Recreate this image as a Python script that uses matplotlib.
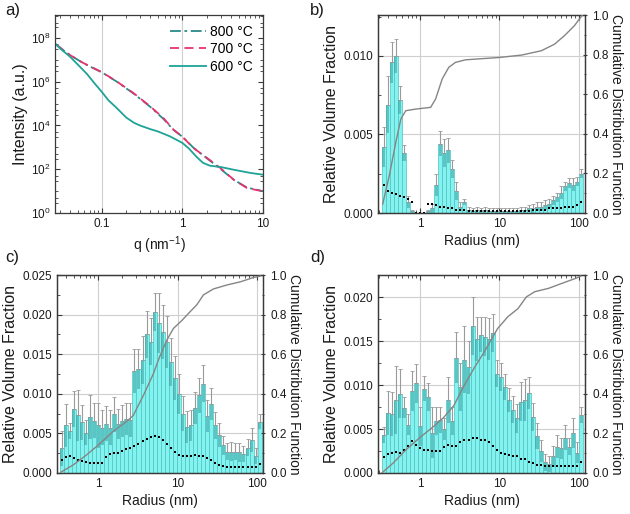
import numpy as np
import matplotlib
matplotlib.use("Agg")
import matplotlib.pyplot as plt
from matplotlib.ticker import FixedLocator, NullFormatter, MultipleLocator, FormatStrFormatter, LogLocator, LogFormatterSciNotation

plt.rcParams['font.family'] = ['Liberation Sans', 'DejaVu Sans']
plt.rcParams['mathtext.fontset'] = 'custom'
plt.rcParams['mathtext.rm'] = 'Liberation Sans'
plt.rcParams['mathtext.it'] = 'Liberation Sans:italic'

# ---- panel a: scattering curves ----
q_800 = [0.0269, 0.0359, 0.058, 0.1, 0.151, 0.244, 0.395, 0.579, 0.772, 1.0, 1.37, 2.01, 2.95, 4.34, 6.35, 10.0]
I_800 = [10**7.70, 10**7.33, 10**6.85, 10**6.42, 10**6.01, 10**5.47, 10**4.86, 10**4.30, 10**3.80, 10**3.48, 10**2.98, 10**2.50, 10**2.02, 10**1.52, 10**1.16, 10**1.00]
q_700 = [0.0269, 0.0359, 0.058, 0.1, 0.151, 0.244, 0.395, 0.579, 0.772, 1.0, 1.37, 2.01, 2.95, 4.34, 6.35, 10.0]
I_700 = [10**7.70, 10**7.32, 10**6.86, 10**6.43, 10**6.02, 10**5.49, 10**4.88, 10**4.34, 10**3.81, 10**3.48, 10**2.97, 10**2.52, 10**2.06, 10**1.52, 10**1.14, 10**0.99]
q_600 = [0.0269, 0.03, 0.04, 0.05, 0.065, 0.08, 0.1, 0.12, 0.15, 0.2, 0.25, 0.3, 0.4, 0.5, 0.7, 1.0,
         1.2, 1.5, 1.8, 2.2, 3.0, 4.3, 7.0, 10.0]
I_600 = [10**7.70, 10**7.52, 10**7.14, 10**6.78, 10**6.35, 10**5.94, 10**5.52, 10**5.15, 10**4.82, 10**4.36,
         10**4.12, 10**3.99, 10**3.83, 10**3.72, 10**3.50, 10**3.20,
         10**2.95, 10**2.56, 10**2.29, 10**2.16, 10**2.10, 10**1.98, 10**1.83, 10**1.75]

# ---- size distributions: 50 log-spaced radius bins ----
bin_edges = np.geomspace(0.33, 114.4, 51)

b_vals = [0.0042, 0.0069, 0.0096, 0.0100, 0.0072, 0.0038, 0.0007, 0.0001, 0.0, 0.0,
          0.0, 0.0001, 0.0003, 0.0018, 0.0044, 0.0038, 0.0040, 0.0028, 0.0014, 0.0004,
          0.0007, 0.0002, 0.0001, 0.0002, 0.0001, 0.0002, 0.0001, 0.0001, 0.0001, 0.0001,
          0.0001, 0.0001, 0.0001, 0.0001, 0.0002, 0.0002, 0.0003, 0.0003, 0.0004, 0.0004,
          0.0005, 0.0006, 0.0008, 0.0010, 0.0013, 0.0017, 0.0019, 0.0018, 0.0020, 0.0025]
b_err = [0.0013, 0.0018, 0.0013, 0.0011, 0.0009, 0.0005, 0.0004, 0.0001, 0.0, 0.0,
         0.0, 0.0001, 0.0003, 0.0007, 0.0008, 0.0009, 0.0008, 0.0006, 0.0006, 0.0003,
         0.0002, 0.0002, 0.0002, 0.0002, 0.0002, 0.0002, 0.0002, 0.0002, 0.0002, 0.0002,
         0.0002, 0.0002, 0.0002, 0.0002, 0.0002, 0.0002, 0.0002, 0.0003, 0.0003, 0.0003,
         0.0003, 0.0003, 0.0003, 0.0003, 0.0004, 0.0003, 0.0003, 0.0004, 0.0003, 0.0003]
b_dots = [0.0018, 0.0014, 0.0013, 0.0012, 0.0011, 0.0010, 0.0009, 0.0007, 0.0, 0.0,
          0.0, 0.0006, 0.0006, 0.0005, 0.0004, 0.0004, 0.0003, 0.0003, 0.0002, 0.0002,
          0.0002, 0.0001, 0.0001, 0.0001, 0.0001, 0.0001, 0.0001, 0.0001, 0.0001, 0.0001,
          0.0001, 0.0001, 0.0001, 0.0001, 0.0001, 0.0001, 0.00015, 0.0002, 0.0002, 0.0002,
          0.0002, 0.0003, 0.0003, 0.0003, 0.0003, 0.0004, 0.0004, 0.0004, 0.0005, 0.0007]
b_cdf_r = [0.338, 0.41, 0.496, 0.573, 0.66, 0.88, 1.36, 1.57, 1.9, 2.3, 2.79, 3.72, 10, 19, 33.8, 49.5, 66, 88, 111]
b_cdf = [0.045, 0.19, 0.36, 0.475, 0.517, 0.525, 0.534, 0.576, 0.677, 0.736, 0.761, 0.774, 0.786, 0.798, 0.82, 0.853, 0.896, 0.946, 1.0]

c_vals = [0.0031, 0.0060, 0.0053, 0.0081, 0.0073, 0.0064, 0.0051, 0.0071, 0.0066, 0.0060,
          0.0057, 0.0062, 0.0057, 0.0074, 0.0062, 0.0066, 0.0068, 0.0067, 0.0129, 0.0131,
          0.0143, 0.0175, 0.0166, 0.0203, 0.0190, 0.0178, 0.0165, 0.0140, 0.0120, 0.0100,
          0.0075, 0.0058, 0.0060, 0.0082, 0.0098, 0.0113, 0.0072, 0.0087, 0.0060, 0.0048,
          0.0035, 0.0027, 0.0027, 0.0027, 0.0026, 0.0024, 0.0032, 0.0042, 0.0021, 0.0065]
c_err = [0.0022, 0.0027, 0.0010, 0.0023, 0.0032, 0.0022, 0.0016, 0.0028, 0.0022, 0.0028,
         0.0022, 0.0022, 0.0022, 0.0022, 0.0019, 0.0020, 0.0020, 0.0021, 0.0028, 0.0025,
         0.0030, 0.0030, 0.0030, 0.0024, 0.0038, 0.0034, 0.0033, 0.0030, 0.0028, 0.0025,
         0.0022, 0.0020, 0.0020, 0.0020, 0.0022, 0.0023, 0.0020, 0.0020, 0.0017, 0.0015,
         0.0012, 0.0011, 0.0012, 0.0011, 0.0012, 0.0010, 0.0011, 0.0015, 0.0010, 0.0009]
c_dots = [0.0016, 0.0020, 0.0021, 0.0019, 0.0017, 0.0015, 0.0014, 0.0013, 0.0013, 0.0012,
          0.0013, 0.0020, 0.0024, 0.0025, 0.0025, 0.0028, 0.0030, 0.0032, 0.0034, 0.0036,
          0.0040, 0.0043, 0.0045, 0.0047, 0.0046, 0.0042, 0.0037, 0.0031, 0.0027, 0.0023,
          0.0022, 0.0022, 0.0022, 0.0023, 0.0022, 0.0021, 0.0019, 0.0016, 0.0012, 0.0010,
          0.0009, 0.0008, 0.0008, 0.0008, 0.0008, 0.0008, 0.0008, 0.0008, 0.0008, 0.0011]
c_cdf_r = [0.338, 0.484, 0.71, 1.0, 1.55, 2.28, 2.77, 3.7, 4.95, 6.0, 7.3, 8.87, 11.3, 14.4, 17.5, 21.2, 28.3, 41.8, 61.7, 90.6, 110]
c_cdf = [0.003, 0.04, 0.09, 0.14, 0.21, 0.26, 0.29, 0.39, 0.50, 0.59, 0.67, 0.73, 0.77, 0.815, 0.85, 0.90, 0.93, 0.95, 0.966, 0.988, 0.995]

d_vals = [0.0043, 0.0068, 0.0067, 0.0083, 0.0090, 0.0074, 0.0055, 0.0093, 0.0102, 0.0053,
          0.0096, 0.0086, 0.0046, 0.0059, 0.0060, 0.0050, 0.0083, 0.0059, 0.0131, 0.0098,
          0.0129, 0.0120, 0.0167, 0.0152, 0.0157, 0.0155, 0.0152, 0.0159, 0.0113, 0.0109,
          0.0098, 0.0083, 0.0072, 0.0062, 0.0081, 0.0083, 0.0091, 0.0064, 0.0042, 0.0025,
          0.0012, 0.0010, 0.0019, 0.0030, 0.0028, 0.0040, 0.0030, 0.0045, 0.0023, 0.0066]
d_err = [0.0009, 0.0025, 0.0025, 0.0039, 0.0028, 0.0012, 0.0012, 0.0023, 0.0022, 0.0022,
         0.0014, 0.0016, 0.0029, 0.0016, 0.0015, 0.0012, 0.0026, 0.0016, 0.0029, 0.0027,
         0.0038, 0.0030, 0.0033, 0.0025, 0.0020, 0.0022, 0.0024, 0.0022, 0.0015, 0.0016,
         0.0015, 0.0014, 0.0015, 0.0017, 0.0022, 0.0024, 0.0018, 0.0016, 0.0015, 0.0012,
         0.0010, 0.0009, 0.0012, 0.0013, 0.0012, 0.0014, 0.0010, 0.0017, 0.0012, 0.0009]
d_dots = [0.0018, 0.0022, 0.0023, 0.0024, 0.0023, 0.0026, 0.0031, 0.0036, 0.0032, 0.0028,
          0.0026, 0.0026, 0.0025, 0.0025, 0.0025, 0.0030, 0.0032, 0.0031, 0.0031, 0.0035,
          0.0037, 0.0038, 0.0040, 0.0040, 0.0038, 0.0038, 0.0035, 0.0031, 0.0026, 0.0023,
          0.0022, 0.0020, 0.0019, 0.0019, 0.0016, 0.0016, 0.0013, 0.0011, 0.0009, 0.0009,
          0.0008, 0.0008, 0.0008, 0.0008, 0.0008, 0.0008, 0.0008, 0.0008, 0.0008, 0.0012]
d_cdf_r = [0.33, 0.457, 0.676, 1.0, 1.48, 1.98, 2.66, 3.57, 4.8, 6.4, 7.8, 9.5, 12.8, 17.1, 21.9, 27.9, 41.6, 61.2, 90.8, 106]
d_cdf = [0.0, 0.05, 0.12, 0.18, 0.235, 0.28, 0.34, 0.44, 0.53, 0.61, 0.67, 0.73, 0.79, 0.83, 0.89, 0.916, 0.933, 0.958, 0.983, 0.995]

TXT = '#1a1a1a'
SPINE = '#3a3a3a'
GRID = '#cfcfcf'
TICK_FS = 8.5
XLAB_FS = 10
YLAB_FS = 11.5

fig = plt.figure(figsize=(6.3, 5.14), dpi=100)


def style_axis(ax):
    for s in ax.spines.values():
        s.set_color(SPINE)
        s.set_linewidth(0.9)
    ax.tick_params(which='both', direction='in', colors=SPINE, labelcolor=TXT, labelsize=TICK_FS)
    ax.tick_params(which='major', length=3.5)
    ax.tick_params(which='minor', length=2)


# ---- panel a ----
ax = fig.add_axes([0.0873, 0.5856, 0.330, 0.385])
ax.plot(q_800, I_800, color='#2b8a8a', lw=1.3, ls=(0, (6, 2, 1.5, 2)), label='800 °C')
ax.plot(q_700, I_700, color='#e6336e', lw=1.3, ls=(0, (5, 3)), label='700 °C')
ax.plot(q_600, I_600, color='#1da397', lw=1.3, label='600 °C')
ax.set_xscale('log')
ax.set_yscale('log')
ax.set_xlim(0.026, 10)
ax.set_ylim(1, 1.1e9)
ax.xaxis.set_major_locator(FixedLocator([0.1, 1, 10]))
ax.set_xticklabels(['0.1', '1', '10'])
ax.xaxis.set_minor_locator(LogLocator(base=10, subs=np.arange(2, 10)))
ax.xaxis.set_minor_formatter(NullFormatter())
ax.yaxis.set_major_locator(FixedLocator([1, 1e2, 1e4, 1e6, 1e8]))
ax.yaxis.set_major_formatter(LogFormatterSciNotation())
ax.yaxis.set_minor_locator(FixedLocator([1e1, 1e3, 1e5, 1e7, 1e9] + [m * 10**e for e in range(0, 9) for m in (3, 5)]))
ax.yaxis.set_minor_formatter(NullFormatter())
ax.grid(True, axis='x', which='major', color=GRID, lw=0.8)
ax.set_axisbelow(True)
style_axis(ax)
ax.tick_params(which='both', top=True, right=True)
ax.set_xlabel('q (nm$^{-1}$)', fontsize=XLAB_FS, color=TXT, labelpad=3)
ax.set_ylabel('Intensity (a.u.)', fontsize=YLAB_FS, color=TXT, labelpad=2)
ax.legend(loc='upper right', frameon=False, fontsize=10, handlelength=2.6,
          handletextpad=0.3, borderaxespad=0.3, labelspacing=0.25)


# ---- panels b-d ----
def dist_panel(rect, vals, err, dots, cdf_r, cdf, xlim, ylim):
    vals = np.array(vals)
    err = np.array(err)
    left = bin_edges[:-1]
    widths = np.diff(bin_edges)
    centers = np.sqrt(bin_edges[:-1] * bin_edges[1:])
    ax = fig.add_axes(rect)
    ax.bar(left, vals, width=widths, align='edge', color='#84f3ef',
           edgecolor='#4cc4c2', linewidth=0.5, zorder=2)
    low = np.clip(vals - err, 0, None)
    ax.bar(centers, vals - low, bottom=low, width=widths * 0.75, align='center',
           color='#3b9f9e', alpha=0.55, linewidth=0, zorder=3)
    ax.errorbar(centers, vals, yerr=[np.zeros_like(err), err], fmt='none',
                ecolor='#9a9a9a', elinewidth=0.8, capsize=1.3, capthick=0.6, zorder=3)
    ax.plot(centers, dots, 's', color='black', ms=2.0, mew=0, zorder=5)
    ax.set_xscale('log')
    ax.set_xlim(*xlim)
    ax.set_ylim(*ylim)
    ax.xaxis.set_major_locator(FixedLocator([1, 10, 100]))
    ax.set_xticklabels(['1', '10', '100'])
    ax.xaxis.set_minor_locator(LogLocator(base=10, subs=np.arange(2, 10)))
    ax.xaxis.set_minor_formatter(NullFormatter())
    ax.yaxis.set_major_locator(MultipleLocator(0.005))
    ax.yaxis.set_minor_locator(MultipleLocator(0.0025))
    ax.yaxis.set_major_formatter(FormatStrFormatter('%.3f'))
    ax.grid(True, which='major', color=GRID, lw=0.8, zorder=0)
    ax.set_axisbelow(True)
    style_axis(ax)
    ax.tick_params(which='both', top=True)
    ax.set_xlabel('Radius (nm)', fontsize=XLAB_FS, color=TXT, labelpad=3)
    ax.set_ylabel('Relative Volume Fraction', fontsize=YLAB_FS, color=TXT, labelpad=3)

    ax2 = ax.twinx()
    ax2.plot(cdf_r, cdf, color='#858585', lw=1.0, zorder=6)
    ax2.set_ylim(0, 1.0)
    ax2.yaxis.set_major_locator(MultipleLocator(0.2))
    ax2.yaxis.set_minor_locator(MultipleLocator(0.1))
    ax2.yaxis.set_major_formatter(FormatStrFormatter('%.1f'))
    style_axis(ax2)
    ax2.tick_params(which='both', direction='inout')
    ax2.set_ylabel('Cumulative Distribution Function', fontsize=10, color=TXT,
                   rotation=270, labelpad=10)
    return ax


dist_panel([0.600, 0.5856, 0.3286, 0.385], b_vals, b_err, b_dots, b_cdf_r, b_cdf,
           (0.295, 120), (0, 0.0126))
dist_panel([0.0905, 0.0798, 0.327, 0.385], c_vals, c_err, c_dots, c_cdf_r, c_cdf,
           (0.305, 119), (0, 0.025))
dist_panel([0.600, 0.0798, 0.3286, 0.385], d_vals, d_err, d_dots, d_cdf_r, d_cdf,
           (0.295, 120), (0, 0.0225))

for lab, x, y in [('a)', 0.008, 0.995), ('b)', 0.492, 0.995), ('c)', 0.008, 0.513), ('d)', 0.492, 0.513)]:
    fig.text(x, y, lab, fontsize=12, color=TXT, va='top', ha='left')

fig.savefig('out.png', dpi=100)
